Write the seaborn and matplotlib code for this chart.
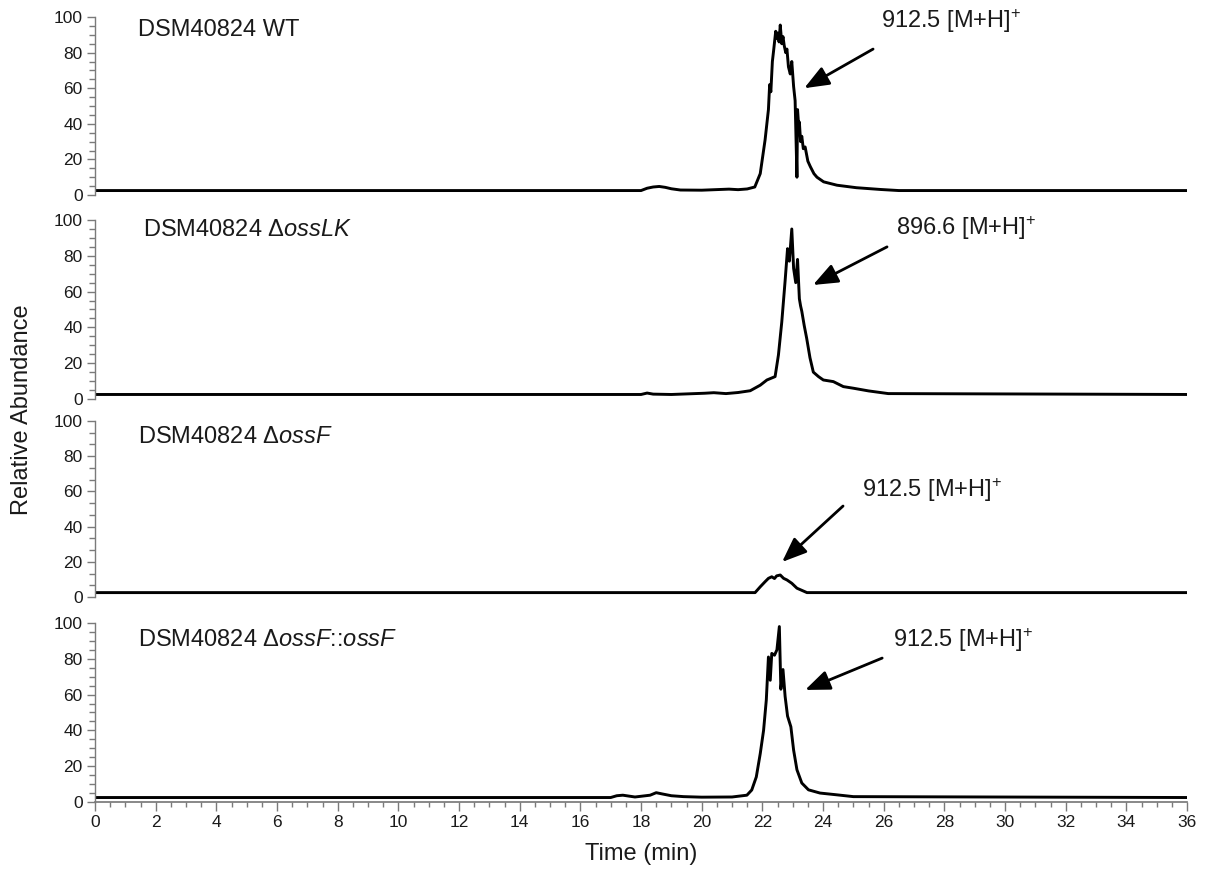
import numpy as np
import pandas as pd
import seaborn as sns
import matplotlib.pyplot as plt
from matplotlib.ticker import MultipleLocator, AutoMinorLocator

# Extracted ion chromatograms (time in min, relative abundance in %)
wt_time = [0, 18.0, 18.2, 18.4, 18.6, 18.8, 19.0, 19.3, 20.0, 20.9, 21.2, 21.5, 21.75,
           21.93, 22.09, 22.20, 22.24, 22.28, 22.33, 22.37, 22.44, 22.48, 22.51, 22.55,
           22.59, 22.64, 22.68, 22.72, 22.77, 22.81, 22.86, 22.92, 22.97, 23.03, 23.08,
           23.14, 23.16, 23.20, 23.22, 23.26, 23.30, 23.35, 23.41, 23.50, 23.58, 23.70,
           23.80, 24.02, 24.46, 25.1, 25.9, 26.5, 36]
wt_abund = [2.5, 2.5, 3.8, 4.5, 4.8, 4.3, 3.5, 2.8, 2.7, 3.3, 3.0, 3.4, 4.5,
            12, 31, 48, 62, 58, 75, 81, 92, 88, 91, 86,
            95.5, 85, 89, 84, 80, 82, 72, 68, 75, 61, 53,
            10, 48, 38, 41, 30, 33, 26, 27, 19, 16, 12,
            10, 7.4, 5.5, 4.1, 3.1, 2.5, 2.5]

osslk_time = [0, 18.0, 18.2, 18.4, 19.0, 20.1, 20.4, 20.8, 21.2, 21.6, 21.93, 22.15,
              22.42, 22.53, 22.64, 22.75, 22.83, 22.89, 22.97, 23.03, 23.10, 23.16,
              23.22, 23.26, 23.30, 23.34, 23.38, 23.46, 23.57, 23.68, 23.85, 24.01,
              24.34, 24.67, 25.0, 25.5, 26.15, 36]
osslk_abund = [2.5, 2.5, 3.3, 2.7, 2.5, 3.2, 3.5, 3.0, 3.6, 4.6, 7.7, 10.6,
               12.5, 24.6, 43, 66, 84, 77, 95, 73, 65, 78,
               56, 52, 49, 45, 41, 34, 23, 15, 12.5, 10.6,
               9.7, 6.9, 6.0, 4.5, 3.0, 2.5]

ossf_time = [0, 21.76, 21.93, 22.09, 22.20, 22.31, 22.40, 22.47, 22.59, 22.70, 22.81,
             22.97, 23.14, 23.47, 36]
ossf_abund = [2.5, 2.5, 5.8, 8.7, 10.6, 11.5, 10.5, 12, 12.5, 10.6, 9.7,
              7.8, 5.0, 2.5, 2.5]

comp_time = [0, 17.0, 17.2, 17.4, 17.6, 17.8, 18.3, 18.5, 18.7, 19.0, 19.4, 20.0, 21.0,
             21.49, 21.65, 21.80, 21.93, 22.04, 22.13, 22.20, 22.26, 22.31, 22.40, 22.48,
             22.56, 22.61, 22.68, 22.75, 22.83, 22.94, 23.03, 23.14, 23.30, 23.52, 23.9,
             24.46, 25.0, 36]
comp_abund = [2.5, 2.5, 3.5, 3.8, 3.3, 2.8, 3.8, 5.2, 4.5, 3.5, 3.0, 2.7, 2.8,
              3.8, 6.7, 14, 27, 40, 57, 81, 68, 83, 82, 85,
              98, 63, 74, 59, 48, 42, 29, 18, 10.6, 6.8, 5,
              4, 3, 2.5]

strain_labels = ["DSM40824 WT", "DSM40824 Δ$\\mathit{ossLK}$",
                 "DSM40824 Δ$\\mathit{ossF}$", "DSM40824 Δ$\\mathit{ossF}$::$\\mathit{ossF}$"]
ion_labels = ["912.5 [M+H]$^{+}$", "896.6 [M+H]$^{+}$", "912.5 [M+H]$^{+}$", "912.5 [M+H]$^{+}$"]
# arrow head (x, y) and tail (x, y) in data units, label anchor (x, y)
arrow_heads = [(23.38, 60), (23.67, 63.7), (22.65, 19.9), (23.41, 62.6)]
arrow_tails = [(25.65, 82), (26.11, 85), (24.66, 51.7), (25.95, 80.4)]
ion_pos = [(25.9, 98), (26.4, 95.5), (25.3, 61), (26.3, 90.5)]
strain_pos = [(1.42, 92.7), (1.58, 94.4), (1.42, 91), (1.42, 90.5)]

traces = [(wt_time, wt_abund), (osslk_time, osslk_abund),
          (ossf_time, ossf_abund), (comp_time, comp_abund)]

sns.set_theme(style="ticks")
plt.rcParams['font.family'] = ['Liberation Sans', 'DejaVu Sans']
plt.rcParams['mathtext.fontset'] = 'custom'
plt.rcParams['mathtext.rm'] = 'Liberation Sans'
plt.rcParams['mathtext.it'] = 'Liberation Sans:italic'
plt.rcParams['mathtext.default'] = 'regular'

fig = plt.figure(figsize=(12.12, 8.69), dpi=100)

# panel [bottom, top] in figure fraction
panel_box = [(0.7756, 0.9804), (0.5409, 0.7468), (0.3130, 0.5155), (0.0771, 0.2831)]
left, right = 0.0784, 0.9794
grey = "#7a7a7a"
txt = "#1a1a1a"

for i, ((t, a), (b, tp)) in enumerate(zip(traces, panel_box)):
    ax = fig.add_axes([left, b, right - left, tp - b])
    df = pd.DataFrame({"time": t, "abund": a})
    sns.lineplot(data=df, x="time", y="abund", ax=ax, color="black",
                 linewidth=2.1, estimator=None, sort=False)
    ax.set_xlim(0, 36)
    ax.set_ylim(0, 100)
    ax.set_xlabel("")
    ax.set_ylabel("")
    for s in ["top", "right", "bottom"]:
        ax.spines[s].set_visible(False)
    ax.spines["left"].set_color(grey)
    ax.spines["left"].set_linewidth(1.0)
    ax.yaxis.set_major_locator(MultipleLocator(20))
    ax.yaxis.set_minor_locator(AutoMinorLocator(3 if i == 2 else 4))
    ax.tick_params(axis="y", which="major", length=6, width=1, color=grey,
                   labelsize=12.5, labelcolor=txt, pad=3)
    ax.tick_params(axis="y", which="minor", length=4, width=1, color=grey)
    if i == 3:
        ax.spines["bottom"].set_visible(True)
        ax.spines["bottom"].set_color(grey)
        ax.xaxis.set_major_locator(MultipleLocator(2))
        ax.xaxis.set_minor_locator(MultipleLocator(0.5))
        ax.tick_params(axis="x", which="major", length=6.5, width=1, color=grey,
                       labelsize=12.5, labelcolor=txt, pad=3)
        ax.tick_params(axis="x", which="minor", length=3.8, width=1, color=grey)
        ax.set_xlabel("Time (min)", fontsize=17, color=txt, labelpad=9)
    else:
        ax.tick_params(axis="x", which="both", bottom=False, labelbottom=False)
    ax.patch.set_alpha(0)

    ax.text(strain_pos[i][0], strain_pos[i][1], strain_labels[i], fontsize=17,
            color=txt, ha="left", va="center")
    ax.text(ion_pos[i][0], ion_pos[i][1], ion_labels[i], fontsize=17,
            color=txt, ha="left", va="center")
    ax.annotate("", xy=arrow_heads[i], xytext=arrow_tails[i],
                arrowprops=dict(arrowstyle="-|>,head_length=0.75,head_width=0.3",
                                mutation_scale=20, lw=2, color="black",
                                shrinkA=0, shrinkB=0))

fig.text(0.018, 0.528, "Relative Abundance", rotation=90, fontsize=17,
         color=txt, ha="center", va="center")

fig.savefig("out.png", dpi=100)
